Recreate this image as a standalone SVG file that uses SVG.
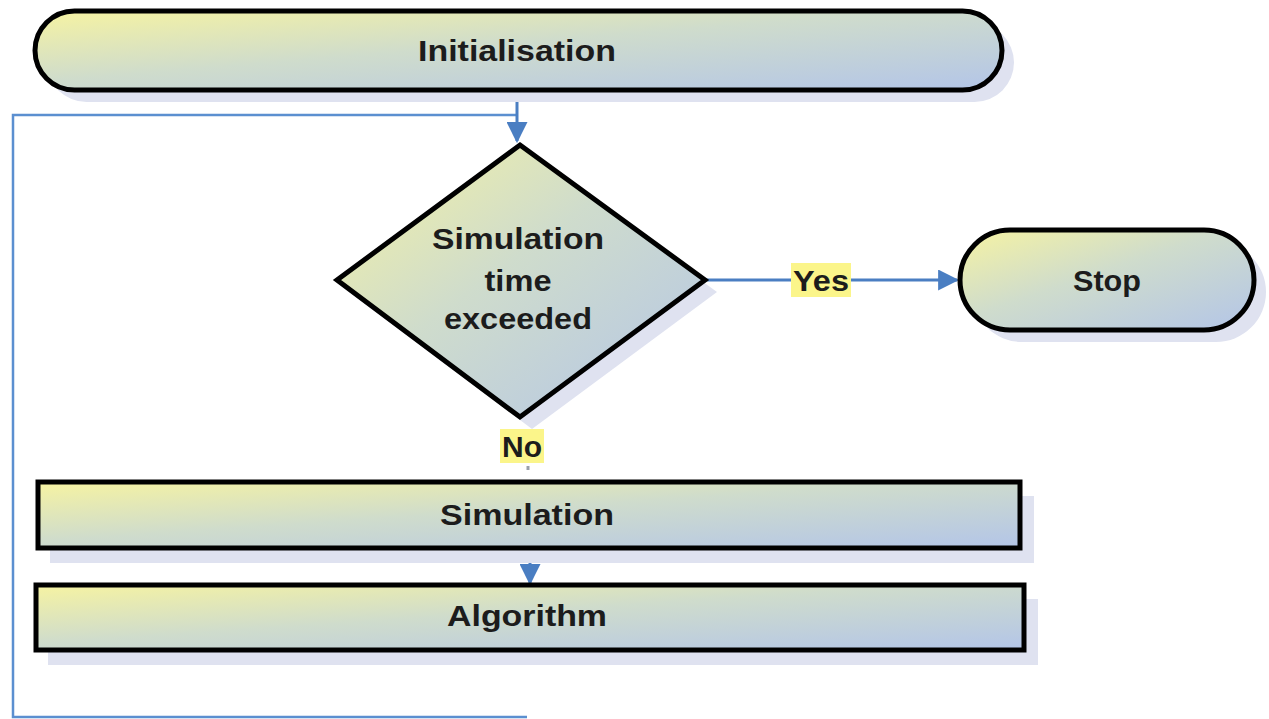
<svg xmlns="http://www.w3.org/2000/svg" width="1269" height="719" viewBox="0 0 1269 719">
  <defs>
    <linearGradient id="fillg" x1="0" y1="0" x2="1" y2="1">
      <stop offset="0" stop-color="#f6f3a2"/>
      <stop offset="0.45" stop-color="#cfdccc"/>
      <stop offset="1" stop-color="#b3c5e8"/>
    </linearGradient>
    <marker id="arr" viewBox="0 0 10 10" refX="9" refY="5" markerWidth="6" markerHeight="6" markerUnits="userSpaceOnUse" orient="auto">
      <path d="M0,0 L10,5 L0,10 Z" fill="#4a7ec2"/>
    </marker>
    <marker id="arrB" viewBox="0 0 10 10" refX="9" refY="5" markerWidth="7" markerHeight="7" orient="auto">
      <path d="M0,0 L10,5 L0,10 Z" fill="#4a7ec2"/>
    </marker>
  </defs>
  <style>
    .shape { fill: url(#fillg); stroke: #000; stroke-width: 5; }
    .shadow { fill: #dfe2f0; stroke: none; }
    .lbl { font-family: "Liberation Sans", Arial, sans-serif; font-weight: bold; font-size: 30px; fill: #1c1c1c; text-anchor: middle; }
    .conn { fill: none; stroke: #4a7ec2; stroke-width: 3; }
    .loop { fill: none; stroke: #5b8fd0; stroke-width: 2.5; }
    .hl { fill: #fbf58a; }
  </style>
  <rect width="1269" height="719" fill="#ffffff"/>

  <g id="connectors">
    <path class="loop" d="M527,717 L13,717 L13,115 L517,115"/>
    <path class="conn" d="M517,92 L517,141" marker-end="url(#arrB)"/>
    <path class="conn" d="M705,280 L957,280" marker-end="url(#arrB)"/>
    <path class="conn" d="M530,549 L530,583" marker-end="url(#arrB)"/>
    <line x1="528" y1="466" x2="528" y2="470" stroke="#9aa0aa" stroke-width="3"/>
  </g>

  <g id="initialisation">
    <rect class="shadow" x="47" y="23" width="967" height="79" rx="39.5"/>
    <rect class="shape" x="35" y="11" width="967" height="79" rx="39.5"/>
    <text class="lbl" x="517" y="61" textLength="198" lengthAdjust="spacingAndGlyphs">Initialisation</text>
  </g>

  <g id="decision">
    <polygon class="shadow" points="532,157 717,292 532,429 349,292"/>
    <polygon class="shape" points="520,145 705,280 520,417 337,280"/>
    <text class="lbl" x="518" y="249" textLength="172" lengthAdjust="spacingAndGlyphs">Simulation</text>
    <text class="lbl" x="518" y="291" textLength="67" lengthAdjust="spacingAndGlyphs">time</text>
    <text class="lbl" x="518" y="329" textLength="148" lengthAdjust="spacingAndGlyphs">exceeded</text>
  </g>

  <g id="label-yes">
    <rect class="hl" x="791" y="263" width="60" height="34"/>
    <text class="lbl" x="821" y="291" textLength="56" lengthAdjust="spacingAndGlyphs">Yes</text>
  </g>

  <g id="label-no">
    <rect class="hl" x="500" y="429" width="44" height="34"/>
    <text class="lbl" x="522" y="457" textLength="40" lengthAdjust="spacingAndGlyphs">No</text>
  </g>

  <g id="stop">
    <rect class="shadow" x="972" y="242" width="294" height="100" rx="50"/>
    <rect class="shape" x="960" y="230" width="294" height="100" rx="50"/>
    <text class="lbl" x="1107" y="291" textLength="68" lengthAdjust="spacingAndGlyphs">Stop</text>
  </g>

  <g id="simulation">
    <rect class="shadow" x="50" y="496" width="984" height="67"/>
    <rect class="shape" x="38" y="482" width="982" height="66"/>
    <text class="lbl" x="527" y="525" textLength="174" lengthAdjust="spacingAndGlyphs">Simulation</text>
  </g>

  <g id="algorithm">
    <rect class="shadow" x="48" y="599" width="990" height="66"/>
    <rect class="shape" x="36" y="585" width="988" height="65"/>
    <text class="lbl" x="527" y="626" textLength="160" lengthAdjust="spacingAndGlyphs">Algorithm</text>
  </g>
</svg>
